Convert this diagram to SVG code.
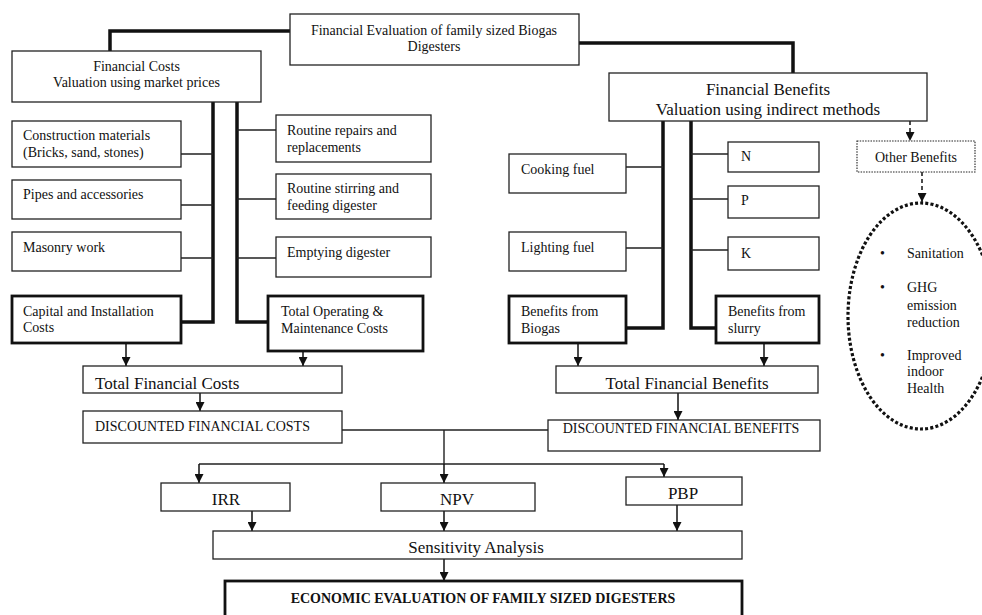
<svg xmlns="http://www.w3.org/2000/svg" width="982" height="615" viewBox="0 0 982 615">
<style>
text{font-family:"Liberation Serif","Times New Roman",serif;fill:#111;font-size:14px}
.l{font-size:17px}
.c{text-anchor:middle}
.b{fill:#fff;stroke:#222;stroke-width:1.3}
.tb{fill:#fff;stroke:#111;stroke-width:2.8}
.thick{fill:none;stroke:#111;stroke-width:3.5}
.thin{fill:none;stroke:#222;stroke-width:1.4}
.arr{fill:none;stroke:#111;stroke-width:1.5;marker-end:url(#ah)}
.dash{fill:none;stroke:#111;stroke-width:1.5;stroke-dasharray:4 3;marker-end:url(#ah)}
</style>
<defs>
<marker id="ah" viewBox="0 0 10 10" refX="10" refY="5" markerWidth="9" markerHeight="9" markerUnits="userSpaceOnUse" orient="auto"><path d="M0,0 L10,5 L0,10 z" fill="#111"/></marker>
</defs>
<rect width="982" height="615" fill="#fff"/>
<g id="connectors">
<path class="thick" d="M290,31 H110 V51"/>
<path class="thick" d="M579,43 H793 V73"/>
<path class="thick" d="M213,102 V322 H181"/>
<path class="thick" d="M237,102 V322 H268"/>
<path class="thin" d="M181,154 H213 M181,205 H213 M181,258 H213"/>
<path class="thin" d="M237,130 H276 M237,199 H276 M237,258 H276"/>
<path class="thick" d="M663,121 V328 H626"/>
<path class="thick" d="M691,121 V328 H716"/>
<path class="thin" d="M626,167 H663 M626,248 H663"/>
<path class="thin" d="M691,154 H728 M691,199 H728 M691,250 H728"/>
<path class="dash" d="M910,121 V141"/>
<path class="dash" d="M922,172 V202"/>
<path class="arr" d="M126,343 V366"/>
<path class="arr" d="M303,351 V366"/>
<path class="arr" d="M578,343 V366"/>
<path class="arr" d="M764,343 V366"/>
<path class="arr" d="M200,393 V411"/>
<path class="arr" d="M678,393 V420"/>
<path class="thin" d="M342,430 H548 M444,430 V464 M199,464 H664"/>
<path class="arr" d="M199,464 V483"/>
<path class="arr" d="M444,464 V483"/>
<path class="arr" d="M664,464 V477"/>
<path class="arr" d="M252,511 V531"/>
<path class="arr" d="M444,511 V531"/>
<path class="arr" d="M677,505 V531"/>
<path class="arr" d="M444,559 V581"/>
</g>
<g id="top"><rect class="b" x="290" y="14" width="289" height="51"/><text class="c" x="434" y="35">Financial Evaluation of family sized Biogas</text><text class="c" x="434" y="51">Digesters</text></g>
<g id="fincosts"><rect class="b" x="12" y="51" width="249" height="51"/><text class="c" x="136.5" y="71">Financial Costs</text><text class="c" x="136.5" y="87">Valuation using market prices</text></g>
<g id="finbenefits"><rect class="b" x="609" y="73" width="318" height="48"/><text class="c l" x="768" y="95">Financial Benefits</text><text class="c l" x="768" y="115">Valuation using indirect methods</text></g>
<g id="construction"><rect class="b" x="12" y="121" width="169" height="46"/><text x="23" y="140">Construction materials</text><text x="23" y="157">(Bricks, sand, stones)</text></g>
<g id="pipes"><rect class="b" x="12" y="180" width="169" height="39"/><text x="23" y="199">Pipes and accessories</text></g>
<g id="masonry"><rect class="b" x="12" y="232" width="169" height="39"/><text x="23" y="252">Masonry work</text></g>
<g id="capital"><rect class="tb" x="12" y="296" width="169" height="47"/><text x="23" y="316">Capital and Installation</text><text x="23" y="332">Costs</text></g>
<g id="repairs"><rect class="b" x="276" y="115" width="155" height="47"/><text x="287" y="135">Routine repairs and</text><text x="287" y="152">replacements</text></g>
<g id="stirring"><rect class="b" x="276" y="174" width="155" height="45"/><text x="287" y="193">Routine stirring and</text><text x="287" y="210">feeding digester</text></g>
<g id="emptying"><rect class="b" x="276" y="237" width="155" height="40"/><text x="287" y="257">Emptying digester</text></g>
<g id="om"><rect class="tb" x="268" y="296" width="155" height="55"/><text x="281" y="316">Total Operating &amp;</text><text x="281" y="333">Maintenance Costs</text></g>
<g id="cooking"><rect class="b" x="509" y="154" width="117" height="39"/><text x="521" y="174">Cooking fuel</text></g>
<g id="lighting"><rect class="b" x="509" y="232" width="117" height="39"/><text x="521" y="252">Lighting fuel</text></g>
<g id="biogas"><rect class="tb" x="509" y="296" width="117" height="47"/><text x="521" y="316">Benefits from</text><text x="521" y="333">Biogas</text></g>
<g id="n"><rect class="b" x="728" y="142" width="91" height="30"/><text x="741" y="161">N</text></g>
<g id="p"><rect class="b" x="728" y="186" width="91" height="32"/><text x="741" y="205">P</text></g>
<g id="k"><rect class="b" x="728" y="237" width="91" height="33"/><text x="741" y="258">K</text></g>
<g id="slurry"><rect class="tb" x="716" y="296" width="103" height="47"/><text x="728" y="316">Benefits from</text><text x="728" y="333">slurry</text></g>
<g id="other"><rect x="857" y="141" width="118" height="31" fill="#fff" stroke="#222" stroke-width="1.1" stroke-dasharray="1.5 1.2"/><text class="c" x="916" y="162">Other Benefits</text></g>
<g id="otherlist"><ellipse cx="921" cy="316" rx="73" ry="113" fill="none" stroke="#111" stroke-width="3.2" stroke-dasharray="3 2.2"/>
<text x="880" y="258">•</text><text x="907" y="258">Sanitation</text>
<text x="880" y="292">•</text><text x="907" y="292">GHG</text><text x="907" y="310">emission</text><text x="907" y="327">reduction</text>
<text x="880" y="360">•</text><text x="907" y="360">Improved</text><text x="907" y="376">indoor</text><text x="907" y="393">Health</text></g>
<g id="tfc"><rect class="b" x="83" y="366" width="259" height="27"/><text class="l" x="95" y="389">Total Financial Costs</text></g>
<g id="dfc"><rect class="b" x="83" y="411" width="259" height="32"/><text x="95" y="431">DISCOUNTED FINANCIAL COSTS</text></g>
<g id="tfb"><rect class="b" x="556" y="366" width="262" height="27"/><text class="c l" x="687" y="389">Total Financial Benefits</text></g>
<g id="dfb"><rect class="b" x="548" y="420" width="272" height="31"/><text class="c" x="681" y="433">DISCOUNTED FINANCIAL BENEFITS</text></g>
<g id="irr"><rect class="b" x="161" y="483" width="129" height="28"/><text class="c l" x="226" y="505">IRR</text></g>
<g id="npv"><rect class="b" x="381" y="483" width="154" height="28"/><text class="c l" x="457" y="505">NPV</text></g>
<g id="pbp"><rect class="b" x="626" y="477" width="116" height="28"/><text class="c l" x="683" y="499">PBP</text></g>
<g id="sens"><rect class="b" x="213" y="531" width="529" height="28"/><text class="c l" x="476" y="553">Sensitivity Analysis</text></g>
<g id="econ"><rect class="tb" x="225" y="581" width="517" height="45" stroke-width="3.2"/><text class="c" x="483" y="603" font-weight="bold">ECONOMIC EVALUATION OF FAMILY SIZED DIGESTERS</text></g>
</svg>
